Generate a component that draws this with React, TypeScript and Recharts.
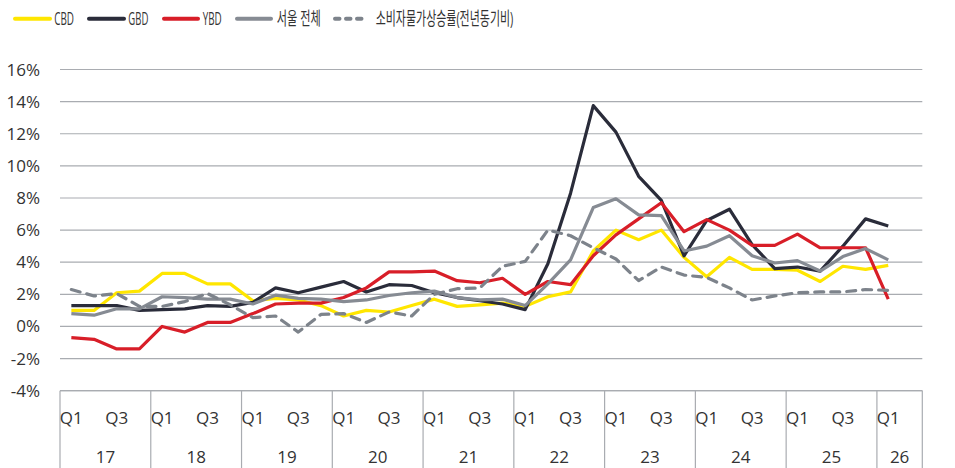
import { LineChart, Line, XAxis, YAxis, CartesianGrid } from "recharts";

// quarterly growth, 17Q1 .. 26Q1 (%)
const YEARS = ["17", "18", "19", "20", "21", "22", "23", "24", "25", "26"];
const QUARTERS = ["Q1", "Q2", "Q3", "Q4"];
const LAST_YEAR_SLOTS = 2; // 26 shows Q1 plus an empty Q2 slot

const CBD = [1.0, 1.0, 2.1, 2.2, 3.3, 3.3, 2.65, 2.65, 1.6, 1.75, 1.65, 1.3, 0.65, 1.0, 0.9, 1.3, 1.7, 1.25, 1.35, 1.45, 1.25, 1.85, 2.15, 4.7, 6.0, 5.4, 6.0, 4.3, 3.1, 4.3, 3.55, 3.55, 3.5, 2.8, 3.75, 3.55, 3.8];
const GBD = [1.3, 1.3, 1.3, 1.0, 1.05, 1.1, 1.3, 1.25, 1.5, 2.4, 2.1, 2.45, 2.8, 2.15, 2.6, 2.55, 2.1, 1.8, 1.6, 1.4, 1.05, 3.9, 8.3, 13.75, 12.1, 9.35, 7.85, 4.4, 6.6, 7.3, 5.1, 3.6, 3.7, 3.45, 5.0, 6.7, 6.25];
const YBD = [-0.7, -0.8, -1.4, -1.4, 0.0, -0.35, 0.25, 0.25, 0.8, 1.4, 1.45, 1.45, 1.8, 2.4, 3.4, 3.4, 3.45, 2.85, 2.72, 3.0, 2.0, 2.8, 2.6, 4.4, 5.7, 6.7, 7.7, 5.9, 6.65, 6.0, 5.05, 5.05, 5.75, 4.9, 4.9, 4.9, 1.7];
const SEOUL = [0.8, 0.7, 1.1, 1.1, 1.85, 1.8, 1.7, 1.7, 1.4, 1.95, 1.75, 1.7, 1.55, 1.65, 1.93, 2.1, 2.2, 1.8, 1.65, 1.7, 1.3, 2.65, 4.15, 7.4, 7.95, 6.95, 6.9, 4.7, 5.0, 5.65, 4.4, 3.95, 4.1, 3.45, 4.35, 4.85, 4.15];
const CPI = [2.3, 1.9, 2.05, 1.25, 1.25, 1.55, 2.05, 1.35, 0.55, 0.65, -0.35, 0.75, 0.8, 0.25, 0.9, 0.65, 2.0, 2.35, 2.4, 3.75, 4.05, 6.0, 5.65, 4.9, 4.2, 2.85, 3.7, 3.2, 3.05, 2.4, 1.65, 1.9, 2.1, 2.15, 2.15, 2.3, 2.25];

const Y_TICKS = [-4, -2, 0, 2, 4, 6, 8, 10, 12, 14, 16];

const SERIES = [
  { key: "cbd", name: "CBD", values: CBD, color: "#ffe600", dashed: false },
  { key: "gbd", name: "GBD", values: GBD, color: "#2a2c3a", dashed: false },
  { key: "ybd", name: "YBD", values: YBD, color: "#d81e28", dashed: false },
  { key: "seoul", name: "서울 전체", values: SEOUL, color: "#868b93", dashed: false },
  { key: "cpi", name: "소비자물가상승률(전년동기비)", values: CPI, color: "#7d838b", dashed: true },
];

const SLOTS = YEARS.flatMap((year, yi) =>
  QUARTERS.slice(0, yi === YEARS.length - 1 ? LAST_YEAR_SLOTS : 4).map((q) => ({ year, q, key: year + q }))
);

const data = SLOTS.map((s, i) => {
  const row: any = { key: s.key };
  SERIES.forEach((sr) => {
    row[sr.key] = i < sr.values.length ? sr.values[i] : null;
  });
  return row;
});

const W = 955;
const H = 468;
const GRID = "#a9acb1";
const TEXT = "#333333";
const FONT = "'Open Sans', 'Noto Sans CJK KR', sans-serif";
const HALF_BAND = (922.3 - 60) / SLOTS.length / 2;

const QuarterTick = (props: any) => {
  const { x, y, payload } = props;
  const i = payload.index ?? props.index;
  const slot = SLOTS[i];
  if (!slot) return null;
  const half = payload.offset > 3 ? payload.offset : HALF_BAND;
  const left = x - half;
  const count = SLOTS.filter((s) => s.year === slot.year).length;
  return (
    <g>
      {slot.q === "Q1" && <line x1={left} x2={left} y1={y} y2={y + 80} stroke={GRID} strokeWidth={1.2} />}
      {i === SLOTS.length - 1 && <line x1={x + half} x2={x + half} y1={y} y2={y + 80} stroke={GRID} strokeWidth={1.2} />}
      {(slot.q === "Q1" || slot.q === "Q3") && (
        <text x={x} y={y + 33} textAnchor="middle" fill={TEXT} fontSize={17} fontFamily={FONT}>
          {slot.q}
        </text>
      )}
      {slot.q === "Q1" && (
        <text x={left + count * half} y={y + 72} textAnchor="middle" fill={TEXT} fontSize={17} fontFamily={FONT}>
          {slot.year}
        </text>
      )}
    </g>
  );
};

const LEGEND_POS = [
  { x1: 13, x2: 52, tx: 54.3, tw: 19.7 },
  { x1: 87, x2: 126, tx: 128.3, tw: 20 },
  { x1: 162, x2: 200, tx: 202.7, tw: 19 },
  { x1: 235, x2: 273, tx: 276.7, tw: 44 },
  { x1: 333, x2: 370, tx: 375.7, tw: 137.6 },
];

function Legend() {
  return (
    <svg width={W} height={40} style={{ position: "absolute", left: 0, top: 0, pointerEvents: "none" }}>
      {SERIES.map((s, i) => {
        const p = LEGEND_POS[i];
        return (
          <g key={s.key}>
            <line
              x1={p.x1 + 2}
              x2={p.x2 - 2}
              y1={18.7}
              y2={18.7}
              stroke={s.color}
              strokeWidth={4}
              strokeLinecap="round"
              strokeDasharray={s.dashed ? "4.5 6.5" : undefined}
            />
            <text
              x={p.tx}
              y={25}
              fontSize={18}
              fontFamily={FONT}
              fill={TEXT}
              textLength={p.tw}
              lengthAdjust="spacingAndGlyphs"
            >
              {s.name}
            </text>
          </g>
        );
      })}
    </svg>
  );
}

export default function App() {
  return (
    <div style={{ position: "absolute", left: 0, top: 0, width: W, height: H, background: "#fff" }}>
      <LineChart width={W} height={H} data={data} margin={{ top: 69.5, right: 32.7, bottom: 0, left: 0 }}>
        <CartesianGrid horizontal vertical={false} stroke={GRID} strokeWidth={1.2} />
        <XAxis
          dataKey="key"
          scale="band"
          interval={0}
          height={77.3}
          tickLine={false}
          tickSize={0}
          tickMargin={0}
          axisLine={{ stroke: GRID, strokeWidth: 1.2 }}
          tick={<QuarterTick />}
        />
        <YAxis
          width={60}
          domain={[-4, 16]}
          ticks={Y_TICKS}
          interval={0}
          allowDataOverflow
          tickLine={false}
          axisLine={false}
          tickSize={0}
          tickMargin={20}
          tickFormatter={(v) => `${v}%`}
          tick={{ fill: TEXT, fontSize: 17, fontFamily: FONT }}
        />
        {SERIES.map((s) => (
          <Line
            key={s.key}
            type="linear"
            dataKey={s.key}
            name={s.name}
            stroke={s.color}
            strokeWidth={3.2}
            strokeDasharray={s.dashed ? "9 7" : undefined}
            strokeLinecap={s.dashed ? "round" : "butt"}
            strokeLinejoin="round"
            dot={false}
            activeDot={false}
            isAnimationActive={false}
          />
        ))}
      </LineChart>
      <Legend />
    </div>
  );
}
